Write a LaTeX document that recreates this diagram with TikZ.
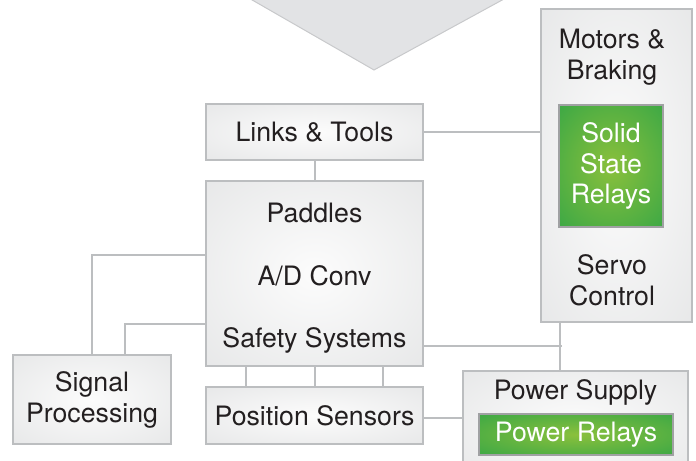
\documentclass[tikz,border=0pt]{standalone}
\usepackage{fontspec}
\setmainfont{TeX Gyre Heros}
\usetikzlibrary{calc}
\definecolor{txt}{HTML}{231F20}
\definecolor{edge}{HTML}{BCBEC0}
\definecolor{boxout}{HTML}{DFE0E1}
\definecolor{boxin}{HTML}{FCFCFC}
\definecolor{grin}{RGB}{138,192,60}
\definecolor{grout}{RGB}{34,160,72}
\definecolor{trifill}{HTML}{E2E3E5}
\definecolor{triedge}{HTML}{C8C9CB}
\pgfdeclareradialshading{grayrad}{\pgfpoint{0bp}{0bp}}{color(0bp)=(boxin); color(50bp)=(boxout); color(72bp)=(boxout)}
\pgfdeclareradialshading{greenrad}{\pgfpoint{0bp}{0bp}}{color(0bp)=(grin); color(48bp)=(grout); color(72bp)=(grout)}
\tikzset{
  graybox/.style={draw=edge, line width=2bp, inner sep=0pt, outer sep=0pt,
    shading=grayrad, rectangle},
  greenbox/.style={draw=edge!85!black, line width=2bp, inner sep=0pt, outer sep=0pt,
    shading=greenrad, rectangle,
    text=white, align=center, font=\fontsize{26.8}{31}\selectfont},
  lbl/.style={text=txt, align=center, font=\fontsize{26.8}{31}\selectfont, inner sep=0pt},
  wire/.style={draw=edge, line width=2bp}
}
\begin{document}
\begin{tikzpicture}[x=1bp,y=-1bp]
\useasboundingbox (0,0) rectangle (696,461);
\clip (0,0) rectangle (696,461);
% top chevron
\filldraw[fill=trifill, draw=triedge, line width=1bp] (240,-7) -- (374,70) -- (515,-7) -- cycle;

% boxes
\node[graybox, minimum width=217bp, minimum height=56bp] (links) at (314.5,132) {};
\node[graybox, minimum width=217bp, minimum height=185bp] (paddles) at (314.5,273.5) {};
\node[graybox, minimum width=217bp, minimum height=57bp] (pos) at (314.5,415.5) {};
\node[graybox, minimum width=158bp, minimum height=89bp] (sig) at (92,399.5) {};
\node[graybox, minimum width=151bp, minimum height=313bp] (motors) at (616.5,165.5) {};
\node[graybox, minimum width=225bp, minimum height=109bp] (power) at (575.5,425.5) {};
\node[greenbox, minimum width=104bp, minimum height=122bp] (ssr) at (611,166) {Solid\\State\\Relays};
\node[greenbox, minimum width=194bp, minimum height=41bp] (prel) at (576,434.5) {Power Relays};

% labels
\node[lbl] (tlinks) at (links.center) {Links \& Tools};
\node[lbl] (tpad) at (314.5,213) {Paddles};
\node[lbl] (tad) at (314.5,276) {A/D Conv};
\node[lbl] (tsafe) at (314.5,340) {Safety Systems};
\node[lbl] (tpos) at (pos.center) {Position Sensors};
\node[lbl] (tsig) at (sig.center) {Signal\\Processing};
\node[lbl] (tmot) at (612,57.5) {Motors \&\\Braking};
\node[lbl] (tservo) at (612,280.5) {Servo\\Control};
\node[lbl] (tpow) at (575.5,392) {Power Supply};

% connectors
\draw[wire] (links.east) -- (links.east -| motors.west);
\draw[wire] (links.south) -- (paddles.north);
\draw[wire] (sig.north) |- ($(paddles.west)+(0,-18.5)$);
\draw[wire] ($(sig.north)+(33,0)$) |- ($(paddles.west)+(0,50.5)$);
\foreach \dx in {-68.5,0,68.5}
  \draw[wire] ($(paddles.south)+(\dx,0)$) -- ($(pos.north)+(\dx,0)$);
\coordinate (mdrop) at ($(motors.south)+(-56.5,0)$);
\draw[wire] (mdrop) -- (mdrop |- power.north);
\draw[wire] ($(paddles.east)+(0,72.5)$) -- ++(139,0);
\draw[wire] ($(pos.east)+(0,2.5)$) -- ($(pos.east -| power.west)+(0,2.5)$);
\end{tikzpicture}
\end{document}
